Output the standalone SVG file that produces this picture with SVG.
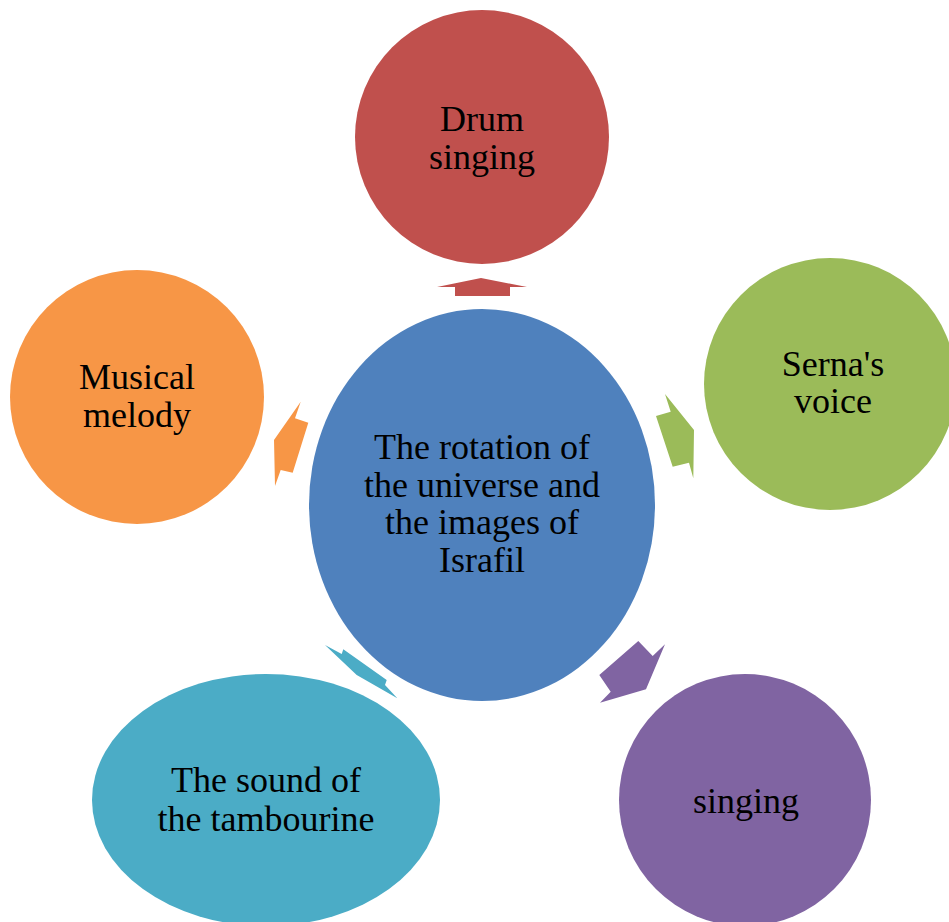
<svg xmlns="http://www.w3.org/2000/svg" width="949" height="922" viewBox="0 0 949 922">
<style>
text{font-family:"Liberation Serif","Times New Roman",serif;font-size:36px;fill:#000;text-anchor:middle}
</style>
<rect width="949" height="922" fill="#fff"/>
<g id="connectors">
<polygon fill="#C0504D" points="481,278 527,287 510,287 510,296 455,296 455,287 437,287"/>
<polygon fill="#9BBB59" points="665,394 694,430 693.3,478.3 689,462.7 672.7,466.7 656,416 670.7,411.7"/>
<polygon fill="#8064A2" points="638.3,641 652.7,656 665,644.3 646,689.3 600,702.7 610.7,691.7 599.3,675"/>
<polygon fill="#4BACC6" points="325,645 341.7,654 343.3,649.3 386.7,680 385,685 397.3,698.3 356.7,675"/>
<polygon fill="#F79646" points="300.7,401.7 295,418.3 308.3,422.7 292.7,472.7 280.7,470 275,486 274,440"/>
</g>
<g id="center">
<ellipse cx="482" cy="505" rx="173" ry="196" fill="#4F81BD"/>
<text x="482" y="459">The rotation of</text>
<text x="482" y="497">the universe and</text>
<text x="482" y="534">the images of</text>
<text x="482" y="572">Israfil</text>
</g>
<g id="drum">
<circle cx="482" cy="137" r="127" fill="#C0504D"/>
<text x="482" y="131">Drum</text>
<text x="482" y="169">singing</text>
</g>
<g id="serna">
<circle cx="830" cy="384" r="126" fill="#9BBB59"/>
<text x="833" y="376">Serna's</text>
<text x="833" y="413">voice</text>
</g>
<g id="singing">
<circle cx="745" cy="800" r="126" fill="#8064A2"/>
<text x="746" y="813">singing</text>
</g>
<g id="tambourine">
<ellipse cx="266" cy="800" rx="174" ry="126" fill="#4BACC6"/>
<text x="266" y="792">The sound of</text>
<text x="266" y="831">the tambourine</text>
</g>
<g id="melody">
<circle cx="137" cy="397" r="127" fill="#F79646"/>
<text x="137" y="389">Musical</text>
<text x="137" y="427">melody</text>
</g>
</svg>
